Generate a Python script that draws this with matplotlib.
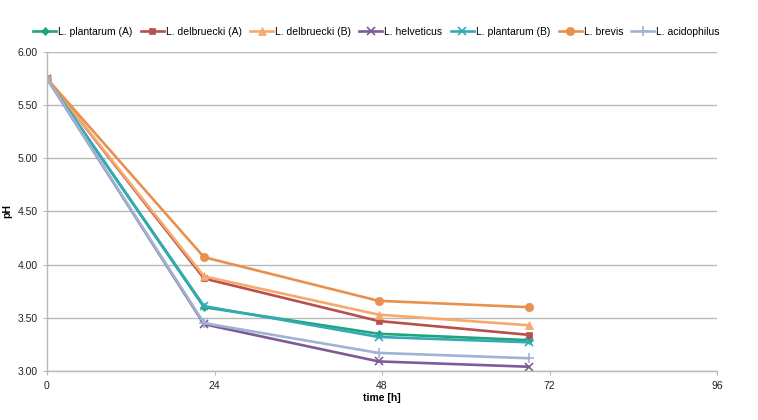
import matplotlib
matplotlib.use("Agg")
import matplotlib.pyplot as plt

plt.rcParams['font.family'] = ['Liberation Sans', 'DejaVu Sans']

time_h = [0, 22.5, 47.5, 69]
series_names = ["L. plantarum (A)", "L. delbruecki (A)", "L. delbruecki (B)", "L. helveticus",
                "L. plantarum (B)", "L. brevis", "L. acidophilus"]
plantarum_a = [5.75, 3.60, 3.35, 3.29]
delbruecki_a = [5.75, 3.87, 3.47, 3.34]
delbruecki_b = [5.75, 3.89, 3.53, 3.43]
helveticus = [5.75, 3.44, 3.09, 3.04]
plantarum_b = [5.75, 3.61, 3.32, 3.27]
brevis = [5.75, 4.07, 3.66, 3.60]
acidophilus = [5.75, 3.45, 3.17, 3.12]
x_ticks = [0, 24, 48, 72, 96]
y_ticks = [3.0, 3.5, 4.0, 4.5, 5.0, 5.5, 6.0]

values = [plantarum_a, delbruecki_a, delbruecki_b, helveticus, plantarum_b, brevis, acidophilus]
colors = ["#1ea67a", "#b9504c", "#f7a96c", "#7d5a98", "#35a9b5", "#e8914f", "#9fb4d2"]
markers = ["D", "s", "^", "x", "x", "o", "+"]
msizes = [4, 5, 5.5, 6, 6, 6, 7]

fig = plt.figure(figsize=(7.58, 4.20), dpi=100)
ax = fig.add_axes([0.062, 0.1167, 0.884, 0.7595])

for name, vals, c, m, ms in zip(series_names, values, colors, markers, msizes):
    ax.plot(time_h, vals, color=c, marker=m, markersize=ms, linewidth=1.9,
            markeredgewidth=1.2 if m in ("x", "+") else 0.5, label=name)

ax.set_xlim(0, 96)
ax.set_ylim(3.0, 6.0)
ax.set_xticks(x_ticks)
ax.set_xticklabels([str(t) for t in x_ticks])
ax.set_yticks(y_ticks)
ax.set_yticklabels([f"{v:.2f}" for v in y_ticks])
ax.yaxis.grid(True, color="#b8b8b8", linewidth=1)
ax.set_axisbelow(True)
for s in ["top", "right"]:
    ax.spines[s].set_visible(False)
ax.spines["left"].set_color("#b8b8b8")
ax.spines["bottom"].set_color("#b8b8b8")
ax.spines["left"].set_linewidth(1)
ax.spines["bottom"].set_linewidth(1)
ax.tick_params(axis="both", labelsize=7.5, colors="#b8b8b8", labelcolor="#222222", length=3)
ax.tick_params(axis="x", pad=4)
ax.set_xlabel("time [h]", fontsize=7.5, fontweight="bold", labelpad=2)
ax.set_ylabel("pH", fontsize=7.5, fontweight="bold", labelpad=4)

leg = ax.legend(loc="lower left", bbox_to_anchor=(-0.027, 1.035), ncol=7, frameon=False,
                fontsize=7.5, handlelength=2.2, handletextpad=0.2, columnspacing=0.8,
                borderaxespad=0)

fig.savefig("out.png", dpi=100)
